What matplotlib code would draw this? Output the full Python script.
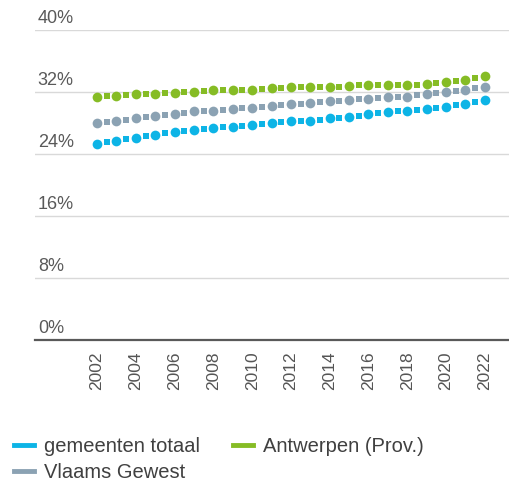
import numpy as np
import matplotlib.pyplot as plt

plt.rcParams['font.family'] = ['Liberation Sans', 'DejaVu Sans']

years = list(range(2002, 2023))
gemeenten = [25.3, 25.7, 26.1, 26.5, 26.8, 27.1, 27.4, 27.5, 27.7, 28.0, 28.2,
             28.3, 28.6, 28.8, 29.1, 29.4, 29.6, 29.8, 30.1, 30.5, 31.0]
antwerpen = [31.4, 31.5, 31.7, 31.8, 31.9, 32.0, 32.2, 32.3, 32.2, 32.5, 32.6,
             32.6, 32.6, 32.8, 32.9, 32.9, 32.9, 33.0, 33.3, 33.6, 34.1]
vlaams = [28.0, 28.3, 28.6, 28.9, 29.2, 29.5, 29.6, 29.8, 30.0, 30.2, 30.4,
          30.6, 30.8, 31.0, 31.1, 31.3, 31.4, 31.7, 32.0, 32.3, 32.7]
yticks = [0, 8, 16, 24, 32, 40]
xticks = list(range(2002, 2023, 2))

c_blue = '#0DB4E6'
c_green = '#86BC25'
c_gray = '#8BA2B3'

fig = plt.figure(figsize=(5.1, 4.84), dpi=100)
ax = fig.add_axes([35 / 510, 1 - 340 / 484, 475 / 510, 310 / 484])

x = np.array(years, dtype=float)
for vals, col in [(gemeenten, c_blue), (vlaams, c_gray), (antwerpen, c_green)]:
    y = np.array(vals)
    # dots at the data points, small square dashes halfway between them
    ax.plot(x, y, linestyle='none', marker='o', markersize=7,
            markeredgewidth=0, color=col)
    ax.plot((x[:-1] + x[1:]) / 2, (y[:-1] + y[1:]) / 2, linestyle='none',
            marker='s', markersize=3.8, markeredgewidth=0, color=col)

ax.set_xlim(1998.8, 2023.3)
ax.set_ylim(0, 40)
ax.set_yticks(yticks)
ax.set_yticklabels([])
ax.tick_params(axis='y', length=0)
ax.grid(axis='y', color='#d9d9d9', linewidth=1)
ax.set_axisbelow(True)
for t in yticks:
    ax.annotate(f'{t}%', xy=(0, t), xycoords=('axes fraction', 'data'),
                xytext=(2, 2.5), textcoords='offset points', ha='left', va='bottom',
                fontsize=13, color='#595959')

ax.set_xticks(xticks)
ax.set_xticklabels([str(v) for v in xticks], rotation=90, fontsize=12.5, color='#555555')
ax.tick_params(axis='x', length=0, pad=8)

for s in ['top', 'right', 'left']:
    ax.spines[s].set_visible(False)
ax.spines['bottom'].set_color('#595959')
ax.spines['bottom'].set_linewidth(1.6)

handles = [plt.Line2D([], [], color=c, linewidth=3.5) for c in [c_blue, c_gray, c_green]]
labels = ['gemeenten totaal', 'Vlaams Gewest', 'Antwerpen (Prov.)']
fig.legend(handles, labels, ncol=2, loc='upper left', bbox_to_anchor=(0.0, 1 - 423 / 484),
           frameon=False, fontsize=14.5, handlelength=1.0, handletextpad=0.5,
           columnspacing=1.6, labelspacing=0.35, labelcolor='#404040', borderaxespad=0.3)

fig.savefig('out.png', dpi=100)
